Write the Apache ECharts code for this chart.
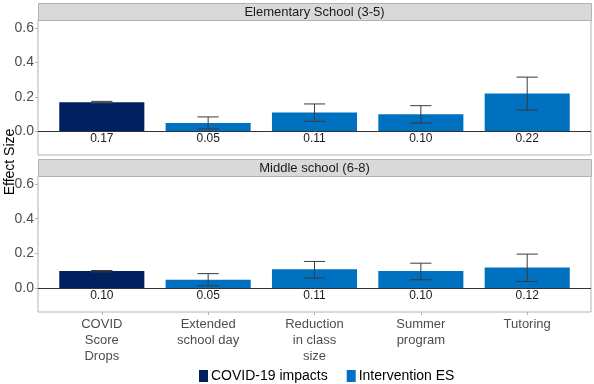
<!DOCTYPE html>
<html>
<head>
<meta charset="utf-8">
<script src="https://cdn.jsdelivr.net/npm/echarts@6/dist/echarts.min.js"></script>
<style>html,body{margin:0;padding:0;background:#fff;}#c{width:594px;height:384px;}</style>
</head>
<body>
<div id="c"></div>
<script>
const categories = ['COVID\nScore\nDrops', 'Extended\nschool day', 'Reduction\nin class\nsize', 'Summer\nprogram', 'Tutoring'];
const panels = ['Elementary School (3-5)', 'Middle school (6-8)'];
const seriesNames = ['COVID-19 impacts', 'Intervention ES'];
const yTicks = [0, 0.2, 0.4, 0.6];
const elemValues = [0.17, 0.05, 0.11, 0.10, 0.22];
const elemLow    = [0.165, 0.015, 0.06, 0.05, 0.125];
const elemHigh   = [0.175, 0.085, 0.16, 0.15, 0.315];
const midValues  = [0.10, 0.05, 0.11, 0.10, 0.12];
const midLow     = [0.095, 0.015, 0.06, 0.05, 0.04];
const midHigh    = [0.103, 0.085, 0.155, 0.145, 0.197];

const FONT = 'Liberation Sans, Arial, sans-serif';
const colors = ['#002060', '#0070C0'];
const panelData = [[elemValues, elemLow, elemHigh], [midValues, midLow, midHigh]];

function renderItem(params, api) {
  const x = api.value(0), v = api.value(1), lo = api.value(2), hi = api.value(3);
  const base = api.coord([x, 0]);
  const top = api.coord([x, v]);
  const w = api.size([0.8, 0])[0];
  const ew = api.size([0.2, 0])[0];
  const pLo = api.coord([x, lo]);
  const pHi = api.coord([x, hi]);
  const color = api.visual('color');
  const lineStyle = { stroke: '#3a3a3a', lineWidth: 1 };
  return {
    type: 'group',
    children: [
      { type: 'rect', shape: { x: base[0] - w / 2, y: top[1], width: w, height: base[1] - top[1] },
        style: { fill: color } },
      { type: 'line', shape: { x1: pLo[0], y1: pLo[1], x2: pHi[0], y2: pHi[1] }, style: lineStyle },
      { type: 'line', shape: { x1: pLo[0] - ew / 2, y1: pLo[1], x2: pLo[0] + ew / 2, y2: pLo[1] }, style: lineStyle },
      { type: 'line', shape: { x1: pHi[0] - ew / 2, y1: pHi[1], x2: pHi[0] + ew / 2, y2: pHi[1] }, style: lineStyle },
      { type: 'text', x: base[0], y: base[1] + 1.5,
        style: { text: v.toFixed(2), fill: '#1a1a1a', font: '12px ' + FONT, align: 'center', verticalAlign: 'top' } }
    ]
  };
}

const gridDefs = [
  { left: 38, top: 20, right: 3, height: 135 },
  { left: 38, top: 176, right: 3, height: 136 }
];
const strips = [{ y: 3, h: 17 }, { y: 159, h: 17 }];

const grids = [], xAxes = [], yAxes = [], series = [], graphics = [];
panels.forEach((name, p) => {
  grids.push(Object.assign({ show: true, borderColor: '#b3b3b3', borderWidth: 1, backgroundColor: '#fff' }, gridDefs[p]));
  xAxes.push({
    type: 'value', gridIndex: p, min: -0.6, max: 4.6, position: 'bottom',
    axisLine: { show: false, onZero: false }, splitLine: { show: false },
    axisTick: { show: p === 1, customValues: [0, 1, 2, 3, 4], length: 3, lineStyle: { color: '#b3b3b3' } },
    axisLabel: { show: p === 1, customValues: [0, 1, 2, 3, 4], formatter: v => categories[Math.round(v)],
      color: '#4d4d4d', fontSize: 13, fontFamily: FONT, lineHeight: 16, margin: 4 }
  });
  yAxes.push({
    type: 'value', gridIndex: p, min: -0.135, max: 0.645, position: 'left',
    axisLine: { show: false, onZero: false }, splitLine: { show: false },
    axisTick: { show: true, customValues: yTicks, length: 3, lineStyle: { color: '#b3b3b3' } },
    axisLabel: { customValues: yTicks, formatter: v => v.toFixed(1), color: '#4d4d4d', fontSize: 14, fontFamily: FONT, margin: 4 }
  });
  const [vals, lows, highs] = panelData[p];
  const rows = vals.map((v, i) => [i, v, lows[i], highs[i]]);
  series.push({
    type: 'custom', name: seriesNames[0], xAxisIndex: p, yAxisIndex: p,
    itemStyle: { color: colors[0] }, renderItem, encode: { x: 0, y: 1 },
    data: rows.slice(0, 1), z: 2
  });
  series.push({
    type: 'custom', name: seriesNames[1], xAxisIndex: p, yAxisIndex: p,
    itemStyle: { color: colors[1] }, renderItem, encode: { x: 0, y: 1 },
    data: rows.slice(1), z: 2,
    markLine: { silent: true, symbol: 'none', label: { show: false }, z: 5,
      lineStyle: { color: '#333', width: 1, type: 'solid' }, data: [{ yAxis: 0 }] }
  });
  graphics.push({
    type: 'rect', left: 38, top: strips[p].y, shape: { width: 553, height: strips[p].h },
    style: { fill: '#d9d9d9', stroke: '#b3b3b3', lineWidth: 1 }
  });
  graphics.push({
    type: 'text', x: 314.5, y: strips[p].y + strips[p].h / 2 + 0.5,
    style: { text: name, fill: '#1a1a1a', font: '13px ' + FONT, align: 'center', verticalAlign: 'middle' }
  });
});
graphics.push({
  type: 'text', x: 10, y: 162, rotation: Math.PI / 2,
  style: { text: 'Effect Size', fill: '#000', font: '14px ' + FONT, align: 'center', verticalAlign: 'middle' }
});

const chart = echarts.init(document.getElementById('c'), null, { renderer: 'canvas' });
chart.setOption({
  animation: false,
  backgroundColor: '#fff',
  grid: grids, xAxis: xAxes, yAxis: yAxes, series: series,
  legend: {
    data: seriesNames, left: 194, top: 364, icon: 'rect', itemWidth: 9, itemHeight: 12, itemGap: 19,
    textStyle: { fontSize: 14, color: '#000', fontFamily: FONT, padding: [0, 0, 0, -2] }
  },
  graphic: graphics
});
</script>
</body>
</html>
